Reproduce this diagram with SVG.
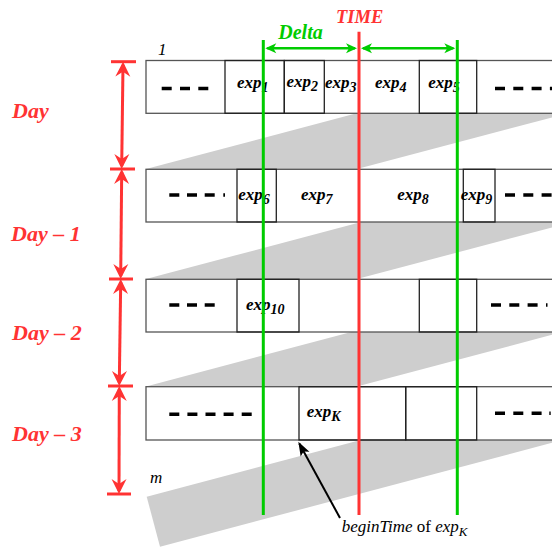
<svg xmlns="http://www.w3.org/2000/svg" width="552" height="548" viewBox="0 0 552 548">
<style>
.row{fill:#fff;stroke:#555;stroke-width:1.3}
.box{fill:none;stroke:#222;stroke-width:1.3}
.band{fill:#cecece}
.lbl{font-family:"Liberation Serif",serif;font-weight:bold;font-style:italic;font-size:17px;fill:#000}
.sub{font-size:14px}
.dash{stroke:#000;stroke-width:3.5;fill:none}
.day{font-family:"Liberation Serif",serif;font-weight:bold;font-style:italic;font-size:22px;fill:#ff3333}
.red{stroke:#ff3333;stroke-width:3;fill:none}
.green{stroke:#00cc00;stroke-width:3;fill:none}
.it{font-family:"Liberation Serif",serif;font-style:italic;font-size:17px;fill:#000}
</style>
<defs>
<marker id="rh" viewBox="-13 -8 17 16" refX="0" refY="0" markerWidth="17" markerHeight="16" markerUnits="userSpaceOnUse" orient="auto-start-reverse">
<path d="M3,0 L-12,-7.5 L-7,0 L-12,7.5 Z" fill="#ff3333"/>
</marker>
<marker id="gh" viewBox="-10 -6 13 12" refX="0" refY="0" markerWidth="13" markerHeight="12" markerUnits="userSpaceOnUse" orient="auto-start-reverse">
<path d="M2,0 L-9,-5 L-6,0 L-9,5 Z" fill="#00cc00"/>
</marker>
<marker id="bh" viewBox="-13 -6 16 12" refX="0" refY="0" markerWidth="16" markerHeight="12" markerUnits="userSpaceOnUse" orient="auto">
<path d="M2,0 L-12,-5 L-9,0 L-12,5 Z" fill="#000"/>
</marker>
</defs>
<g id="bands">
<polygon class="band" points="145,169.3 560,59.3 560,115.3 356,169.3"/>
<polygon class="band" points="145,279.3 560,169.3 560,225.3 356,279.3"/>
<polygon class="band" points="145,386.7 560,276.7 560,332.7 356,386.7"/>
<polygon class="band" points="146.7,496.7 160,546.7 560,440.7 560,387.2"/>
</g>
<g id="row1">
<rect class="row" x="146" y="60.5" width="420" height="52.8"/>
<rect class="box" x="225" y="60.5" width="59.3" height="52.8"/>
<rect class="box" x="284.3" y="60.5" width="40" height="52.8"/>
<rect class="box" x="419.3" y="60.5" width="57.4" height="52.8"/>
<path class="dash" d="M161.7,88.5 H210" stroke-dasharray="10 8.3"/>
<path class="dash" d="M495,88.5 H560" stroke-dasharray="10 8.3"/>
<text class="lbl" x="237" y="88.3">exp<tspan class="sub" dy="4">1</tspan></text>
<text class="lbl" x="286.5" y="87">exp<tspan class="sub" dy="4">2</tspan></text>
<text class="lbl" x="325" y="88.3">exp<tspan class="sub" dy="4">3</tspan></text>
<text class="lbl" x="375" y="88.3">exp<tspan class="sub" dy="4">4</tspan></text>
<text class="lbl" x="428.3" y="88.3">exp<tspan class="sub" dy="4">5</tspan></text>
</g>
<g id="row2">
<rect class="row" x="146" y="169.3" width="420" height="52.7"/>
<rect class="box" x="237" y="169.3" width="39.3" height="52.7"/>
<rect class="box" x="463.3" y="169.3" width="31.7" height="52.7"/>
<path class="dash" d="M169.3,195 H215" stroke-dasharray="10 7.7"/>
<path class="dash" d="M223.3,195 H225"/>
<path class="dash" d="M505,195 H560" stroke-dasharray="10 8.3"/>
<text class="lbl" x="238.3" y="200">exp<tspan class="sub" dy="4">6</tspan></text>
<text class="lbl" x="301" y="200">exp<tspan class="sub" dy="4">7</tspan></text>
<text class="lbl" x="397.3" y="200">exp<tspan class="sub" dy="4">8</tspan></text>
<text class="lbl" x="460.7" y="200">exp<tspan class="sub" dy="4">9</tspan></text>
</g>
<g id="row3">
<rect class="row" x="146" y="279.3" width="420" height="52.7"/>
<rect class="box" x="237" y="279.3" width="62" height="52.7"/>
<rect class="box" x="419.3" y="279.3" width="57.4" height="52.7"/>
<path class="dash" d="M169.3,305 H215" stroke-dasharray="10 7.7"/>
<path class="dash" d="M491,305 H538" stroke-dasharray="10 8.3"/>
<path class="dash" d="M546,305 H547.5"/>
<text class="lbl" x="246" y="310">exp<tspan class="sub" dy="4">10</tspan></text>
</g>
<g id="row4">
<rect class="row" x="146" y="386.7" width="420" height="53.3"/>
<rect class="box" x="299" y="386.7" width="106.7" height="53.3"/>
<rect class="box" x="405.7" y="386.7" width="71" height="53.3"/>
<path class="dash" d="M169.3,414.3 H252" stroke-dasharray="10 8.1"/>
<path class="dash" d="M495,413.3 H541.7" stroke-dasharray="10 8.3"/>
<path class="dash" d="M549.3,413.3 H550.7"/>
<text class="lbl" x="306.7" y="417.3">exp<tspan class="sub" dy="4">K</tspan></text>
</g>
<g id="labels">
<text class="it" x="158" y="55" font-size="18">1</text>
<text class="it" x="150" y="483.3">m</text>
<text class="day" x="12" y="118">Day</text>
<text class="day" x="11" y="240.7">Day – 1</text>
<text class="day" x="12" y="340">Day – 2</text>
<text class="day" x="12" y="440.7">Day – 3</text>
<text x="359.7" y="22.5" text-anchor="middle" font-family="Liberation Serif, serif" font-weight="bold" font-style="italic" font-size="18.5" fill="#ff3333">TIME</text>
<text x="278.3" y="39.3" font-family="Liberation Serif, serif" font-weight="bold" font-style="italic" font-size="20" fill="#00cc00">Delta</text>
<text class="it" x="341.7" y="531.7">beginTime<tspan font-style="normal"> of </tspan>exp<tspan font-size="13" dy="4">K</tspan></text>
</g>
<g id="timelines">
<line class="green" x1="263.3" y1="40" x2="263.3" y2="515"/>
<line class="red" x1="359" y1="31.7" x2="359" y2="515"/>
<line class="green" x1="457.3" y1="40" x2="457.3" y2="515"/>
</g>
<g id="connectors">
<line class="red" x1="111" y1="61.7" x2="136" y2="61.7"/>
<line class="red" x1="110" y1="169" x2="135" y2="169"/>
<line class="red" x1="109" y1="279" x2="133" y2="279"/>
<line class="red" x1="108" y1="386" x2="133" y2="386"/>
<line class="red" x1="107" y1="494" x2="131" y2="494"/>
<line class="red" x1="123" y1="64.7" x2="121.7" y2="166" marker-start="url(#rh)" marker-end="url(#rh)"/>
<line class="red" x1="121.7" y1="172" x2="120.7" y2="276" marker-start="url(#rh)" marker-end="url(#rh)"/>
<line class="red" x1="120.7" y1="282" x2="119.3" y2="383" marker-start="url(#rh)" marker-end="url(#rh)"/>
<line class="red" x1="119.3" y1="389" x2="119" y2="491" marker-start="url(#rh)" marker-end="url(#rh)"/>
<line stroke="#00cc00" stroke-width="2.5" x1="267.3" y1="48.3" x2="355" y2="48.3" marker-start="url(#gh)" marker-end="url(#gh)"/>
<line stroke="#00cc00" stroke-width="2.5" x1="363" y1="48.3" x2="453.3" y2="48.3" marker-start="url(#gh)" marker-end="url(#gh)"/>
<line stroke="#000" stroke-width="2" x1="340" y1="518" x2="299.3" y2="443.5" marker-end="url(#bh)"/>
</g>
</svg>
